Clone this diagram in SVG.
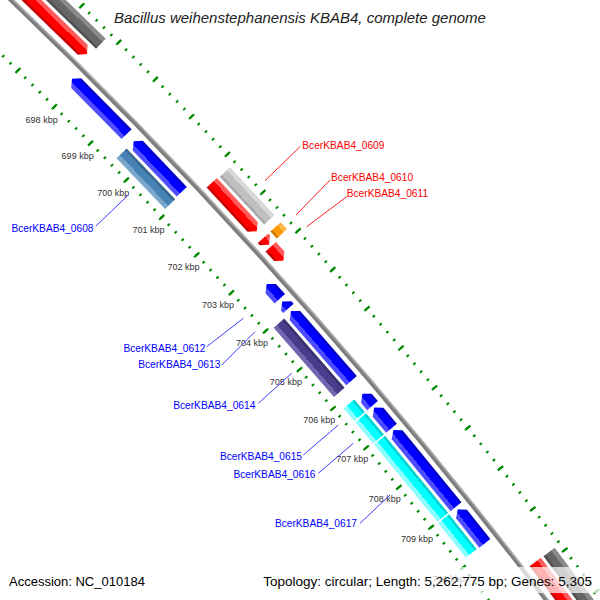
<svg xmlns="http://www.w3.org/2000/svg" width="600" height="600" viewBox="0 0 600 600">
<defs>
<linearGradient id="gRed" x1="0" y1="0" x2="1" y2="0"><stop offset="0" stop-color="#c80000"/><stop offset="0.18" stop-color="#c80000"/><stop offset="0.18" stop-color="#ff0000"/><stop offset="0.68" stop-color="#ff0000"/><stop offset="0.68" stop-color="#ff5a5a"/><stop offset="1" stop-color="#ff5a5a"/></linearGradient>
<linearGradient id="gDGray" x1="0" y1="0" x2="1" y2="0"><stop offset="0" stop-color="#505050"/><stop offset="0.18" stop-color="#505050"/><stop offset="0.18" stop-color="#666666"/><stop offset="0.68" stop-color="#666666"/><stop offset="0.68" stop-color="#8a8a8a"/><stop offset="1" stop-color="#8a8a8a"/></linearGradient>
<linearGradient id="gLGray" x1="0" y1="0" x2="1" y2="0"><stop offset="0" stop-color="#a8a8a8"/><stop offset="0.18" stop-color="#a8a8a8"/><stop offset="0.18" stop-color="#c0c0c0"/><stop offset="0.68" stop-color="#c0c0c0"/><stop offset="0.68" stop-color="#d8d8d8"/><stop offset="1" stop-color="#d8d8d8"/></linearGradient>
<linearGradient id="gOrange" x1="0" y1="0" x2="1" y2="0"><stop offset="0" stop-color="#cc7a00"/><stop offset="0.18" stop-color="#cc7a00"/><stop offset="0.18" stop-color="#ff9900"/><stop offset="0.68" stop-color="#ff9900"/><stop offset="0.68" stop-color="#ffb84d"/><stop offset="1" stop-color="#ffb84d"/></linearGradient>
<linearGradient id="gBlue" x1="0" y1="0" x2="1" y2="0"><stop offset="0" stop-color="#4d4dff"/><stop offset="0.32" stop-color="#4d4dff"/><stop offset="0.32" stop-color="#0000ff"/><stop offset="0.82" stop-color="#0000ff"/><stop offset="0.82" stop-color="#0000c8"/><stop offset="1" stop-color="#0000c8"/></linearGradient>
<linearGradient id="gSteel" x1="0" y1="0" x2="1" y2="0"><stop offset="0" stop-color="#7ba6cc"/><stop offset="0.32" stop-color="#7ba6cc"/><stop offset="0.32" stop-color="#4682b4"/><stop offset="0.82" stop-color="#4682b4"/><stop offset="0.82" stop-color="#386890"/><stop offset="1" stop-color="#386890"/></linearGradient>
<linearGradient id="gSlate" x1="0" y1="0" x2="1" y2="0"><stop offset="0" stop-color="#7066b0"/><stop offset="0.32" stop-color="#7066b0"/><stop offset="0.32" stop-color="#483d8b"/><stop offset="0.82" stop-color="#483d8b"/><stop offset="0.82" stop-color="#3a316f"/><stop offset="1" stop-color="#3a316f"/></linearGradient>
<linearGradient id="gCyan" x1="0" y1="0" x2="1" y2="0"><stop offset="0" stop-color="#8cffff"/><stop offset="0.32" stop-color="#8cffff"/><stop offset="0.32" stop-color="#00ffff"/><stop offset="0.82" stop-color="#00ffff"/><stop offset="0.82" stop-color="#00d2d2"/><stop offset="1" stop-color="#00d2d2"/></linearGradient>
<style>
.tick{fill:none;stroke:#008a00;stroke-width:2.2}
.minor{stroke-width:3;stroke-dashoffset:1}
.major{stroke-width:7;stroke-dashoffset:1}
.bb{fill:none;stroke:#7e7e7e;stroke-width:4.4}
.bbh{fill:none;stroke:#b0b0b0;stroke-width:1.6}
.red{fill:url(#gRed)}
.dgray{fill:url(#gDGray)}
.lgray{fill:url(#gLGray)}
.orange{fill:url(#gOrange)}
.blue{fill:url(#gBlue)}
.steel{fill:url(#gSteel)}
.slate{fill:url(#gSlate)}
.cyan{fill:url(#gCyan)}
.kbp{font-family:"Liberation Sans",Arial,sans-serif;font-size:9px;fill:#333;text-anchor:middle}
.lab{font-family:"Liberation Sans",Arial,sans-serif;font-size:10.2px}
.lr{fill:#ff0000}
.lb{fill:#0000ff}
.cr{stroke:#ff2020;stroke-width:1}
.cb{stroke:#3c3cff;stroke-width:1}
.foot{font-family:"Liberation Sans",Arial,sans-serif;font-size:13px;fill:#000}
.title{font-family:"Liberation Sans",Arial,sans-serif;font-size:15px;font-style:italic;fill:#222;text-anchor:middle}
</style>
</defs>
<rect width="600" height="600" fill="#fff"/>
<text class="title" x="300" y="22.7">Bacillus weihenstephanensis KBAB4, complete genome</text>
<g id="map" transform="translate(-3583 3744) rotate(-45)">
  <g id="ruler-inner" transform="rotate(-1.144)">
    <path class="tick minor" stroke-dasharray="2 8.271" d="M5144 0 A5144 5144 0 0 1 5049.49 981.52"/>
    <path class="tick major" stroke-dasharray="2.2 49.154" d="M5144 0 A5144 5144 0 0 1 5049.49 981.52"/>
  </g>
  <g id="ruler-outer" transform="rotate(-1.1386)">
    <path class="tick minor" stroke-dasharray="2 8.403" d="M5235 0 A5235 5235 0 0 1 5138.82 998.89"/>
    <path class="tick major" stroke-dasharray="2.2 49.816" d="M5235 0 A5235 5235 0 0 1 5138.82 998.89"/>
  </g>
  <g id="backbone" transform="rotate(-1.2)">
    <path class="bb" d="M5189.8 0 A5189.8 5189.8 0 0 1 5094.46 990.26"/>
    <path class="bbh" d="M5191.6 0 A5191.6 5191.6 0 0 1 5096.22 990.60"/>
  </g>
  <g id="f-r1" transform="rotate(-0.7951)"><polygon class="red" points="5197,-58.1 5211,-58.1 5211,52.1 5204,58.1 5197,52.1"/></g>
  <g id="f-g1" transform="rotate(-0.7802)"><rect class="dgray" x="5214" y="-59.6" width="14" height="119.2"/></g>
  <g id="f-0609" transform="rotate(2.1829)"><polygon class="red" points="5197,-33.09 5211,-33.09 5211,27.09 5204,33.09 5197,27.09"/></g>
  <g id="f-0609c" transform="rotate(2.1887)"><rect class="lgray" x="5214" y="-32.675" width="14" height="65.35"/></g>
  <g id="f-0610" transform="rotate(2.6993)"><polygon class="red" points="5197,-4.43 5211,-4.43 5211,-1.57 5204,4.43 5197,-1.57"/></g>
  <g id="f-0610c" transform="rotate(2.7021)"><rect class="orange" x="5214" y="-4.705" width="14" height="9.41"/></g>
  <g id="f-0611" transform="rotate(2.88)"><polygon class="red" points="5197,-9.38 5211,-9.38 5211,3.38 5204,9.38 5197,3.38"/></g>
  <g id="f-r5" transform="rotate(7.9572)"><rect class="red" x="5197" y="-58.9" width="14" height="117.8"/></g>
  <g id="f-g3" transform="rotate(7.9601)"><rect class="dgray" x="5214" y="-58.8" width="14" height="117.6"/></g>
  <g id="f-a" transform="rotate(0.35)"><polygon class="blue" points="5176,-38.87 5183,-32.87 5183,38.87 5169,38.87 5169,-32.87"/></g>
  <g id="f-0608" transform="rotate(1.2779)"><polygon class="blue" points="5176,-34.855 5183,-28.855 5183,34.855 5169,34.855 5169,-28.855"/></g>
  <g id="f-0608c" transform="rotate(1.2851)"><rect class="steel" x="5152" y="-35.125" width="14" height="70.25"/></g>
  <g id="f-0612" transform="rotate(3.1611)"><polygon class="blue" points="5176,-9.845 5183,-3.845 5183,9.845 5169,9.845 5169,-3.845"/></g>
  <g id="f-0613" transform="rotate(3.3619)"><polygon class="blue" points="5176,-4.665 5183,1.335 5183,4.665 5169,4.665 5169,1.335"/></g>
  <g id="f-0614" transform="rotate(3.9643)"><polygon class="blue" points="5176,-46.125 5183,-40.125 5183,46.125 5169,46.125 5169,-40.125"/></g>
  <g id="f-0614c" transform="rotate(3.9757)"><rect class="slate" x="5152" y="-45.975" width="14" height="91.95"/></g>
  <g id="f-0615" transform="rotate(4.7502)"><polygon class="blue" points="5176,-7.775 5183,-1.775 5183,7.775 5169,7.775 5169,-1.775"/></g>
  <g id="f-0615c" transform="rotate(4.7445)"><rect class="cyan" x="5152" y="-8.265" width="14" height="16.53"/></g>
  <g id="f-0616" transform="rotate(5.0141)"><polygon class="blue" points="5176,-13.475 5183,-7.475 5183,13.475 5169,13.475 5169,-7.475"/></g>
  <g id="f-0616c" transform="rotate(5.0084)"><rect class="cyan" x="5152" y="-13.945" width="14" height="27.89"/></g>
  <g id="f-0617" transform="rotate(5.7399)"><polygon class="blue" points="5176,-49.495 5183,-43.495 5183,49.495 5169,49.495 5169,-43.495"/></g>
  <g id="f-0617c" transform="rotate(5.7341)"><rect class="cyan" x="5152" y="-49.85" width="14" height="99.7"/></g>
  <g id="f-i" transform="rotate(6.5631)"><polygon class="blue" points="5176,-21.765 5183,-15.765 5183,21.765 5169,21.765 5169,-15.765"/></g>
  <g id="f-ic" transform="rotate(6.5517)"><rect class="cyan" x="5152" y="-22.215" width="14" height="44.43"/></g>
  <g id="kbp-labels">
    <text class="kbp" dy="3.2" transform="rotate(0) translate(5126 0) rotate(45)">698 kbp</text>
    <text class="kbp" dy="3.2" transform="rotate(0.572) translate(5126 0) rotate(44.428)">699 kbp</text>
    <text class="kbp" dy="3.2" transform="rotate(1.144) translate(5126 0) rotate(43.856)">700 kbp</text>
    <text class="kbp" dy="3.2" transform="rotate(1.716) translate(5126 0) rotate(43.284)">701 kbp</text>
    <text class="kbp" dy="3.2" transform="rotate(2.288) translate(5126 0) rotate(42.712)">702 kbp</text>
    <text class="kbp" dy="3.2" transform="rotate(2.86) translate(5126 0) rotate(42.14)">703 kbp</text>
    <text class="kbp" dy="3.2" transform="rotate(3.432) translate(5126 0) rotate(41.568)">704 kbp</text>
    <text class="kbp" dy="3.2" transform="rotate(4.004) translate(5126 0) rotate(40.996)">705 kbp</text>
    <text class="kbp" dy="3.2" transform="rotate(4.576) translate(5126 0) rotate(40.424)">706 kbp</text>
    <text class="kbp" dy="3.2" transform="rotate(5.148) translate(5126 0) rotate(39.852)">707 kbp</text>
    <text class="kbp" dy="3.2" transform="rotate(5.72) translate(5126 0) rotate(39.28)">708 kbp</text>
    <text class="kbp" dy="3.2" transform="rotate(6.292) translate(5126 0) rotate(38.708)">709 kbp</text>
    <text class="kbp" dy="3.2" transform="rotate(6.864) translate(5126 0) rotate(38.136)">710 kbp</text>
  </g>
</g>
<g id="connectors">
  <line class="cb" x1="128.3" y1="195" x2="96" y2="226"/>
  <line class="cr" x1="265" y1="180.7" x2="300" y2="146.7"/>
  <line class="cr" x1="296" y1="215" x2="330" y2="180"/>
  <line class="cr" x1="306.7" y1="226.7" x2="346.7" y2="196.7"/>
  <line class="cb" x1="243.3" y1="318.3" x2="206.7" y2="346.7"/>
  <line class="cb" x1="255" y1="331.7" x2="221.7" y2="365"/>
  <line class="cb" x1="291.7" y1="373.3" x2="258.3" y2="403.3"/>
  <line class="cb" x1="338.3" y1="425" x2="303.3" y2="455"/>
  <line class="cb" x1="353.3" y1="443.3" x2="318.3" y2="473.3"/>
  <line class="cb" x1="390" y1="495" x2="360" y2="523.3"/>
</g>
<g id="labels">
  <text class="lab lb" x="93.5" y="231.7" text-anchor="end">BcerKBAB4_0608</text>
  <text class="lab lr" x="302.3" y="149.3">BcerKBAB4_0609</text>
  <text class="lab lr" x="331" y="181">BcerKBAB4_0610</text>
  <text class="lab lr" x="346.7" y="196.7">BcerKBAB4_0611</text>
  <text class="lab lb" x="205.5" y="351.7" text-anchor="end">BcerKBAB4_0612</text>
  <text class="lab lb" x="220.3" y="368.3" text-anchor="end">BcerKBAB4_0613</text>
  <text class="lab lb" x="255.3" y="409.3" text-anchor="end">BcerKBAB4_0614</text>
  <text class="lab lb" x="302" y="460" text-anchor="end">BcerKBAB4_0615</text>
  <text class="lab lb" x="315.5" y="477.7" text-anchor="end">BcerKBAB4_0616</text>
  <text class="lab lb" x="357" y="526.7" text-anchor="end">BcerKBAB4_0617</text>
</g>
<rect id="legend-bg" x="0" y="567" width="600" height="26" fill="#fff" fill-opacity="0.7"/>
<text class="foot" x="9" y="586">Accession: NC_010184</text>
<text class="foot" x="592" y="586" text-anchor="end" style="font-size:13.5px">Topology: circular; Length: 5,262,775 bp; Genes: 5,305</text>
</svg>
